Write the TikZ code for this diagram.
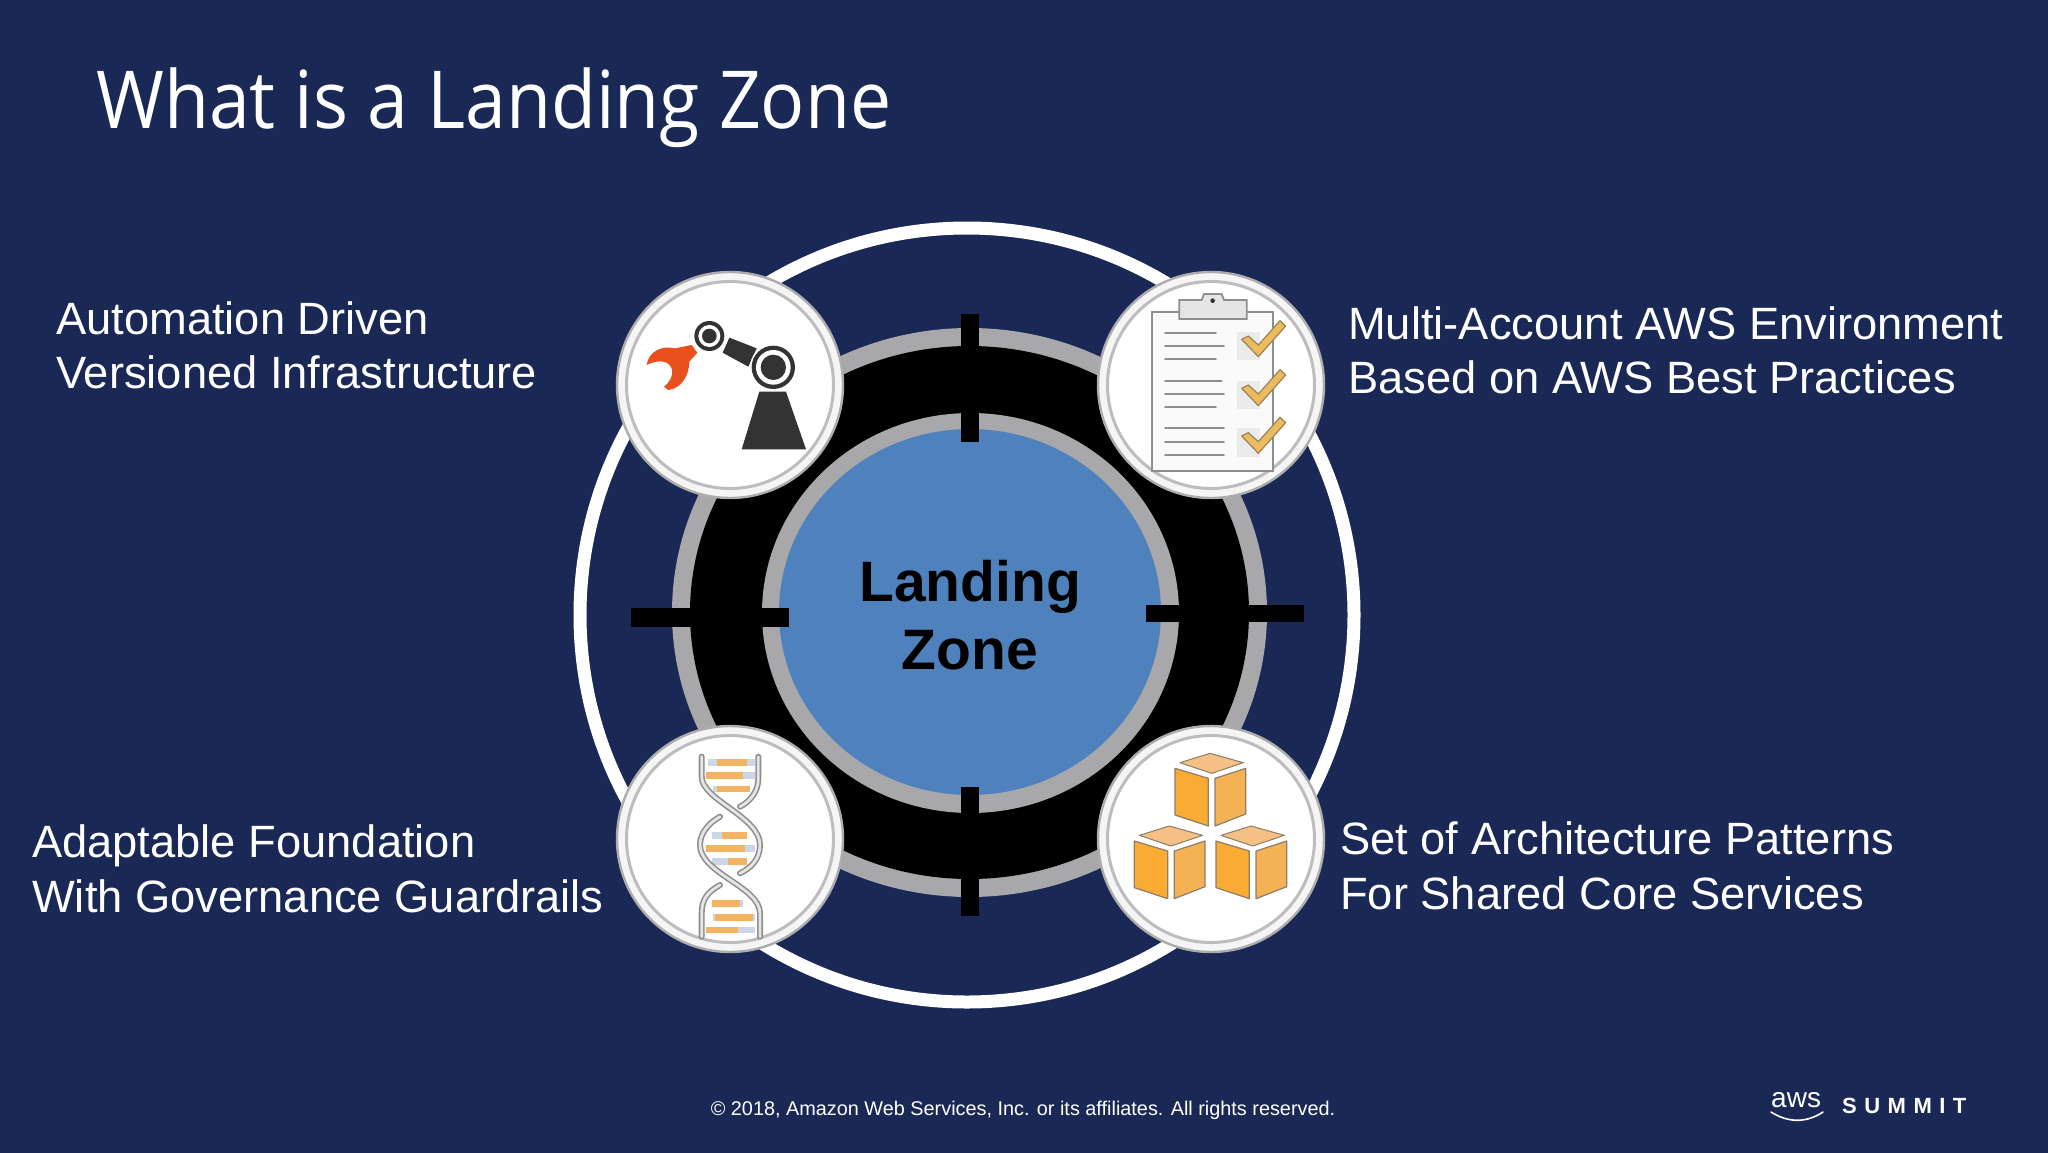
\documentclass[tikz,border=0pt]{standalone}
\usepackage{fontspec}
\setmainfont{Liberation Sans}
\newfontfamily\titlefont[FakeStretch=0.917]{Open Sans}
\newfontfamily\summitfont[LetterSpace=34]{Liberation Sans}
\definecolor{bgnavy}{HTML}{1A2855}
\definecolor{ringgray}{HTML}{A8A8AA}
\definecolor{coreblue}{HTML}{4F81BD}
\definecolor{icondark}{HTML}{333333}
\definecolor{gripper}{HTML}{E8501E}
\definecolor{iconline}{HTML}{8E8E8E}
\definecolor{rung}{HTML}{F2B462}
\definecolor{rungend}{HTML}{CBD6E6}
\definecolor{cubeL}{HTML}{F9AB33}
\definecolor{cubeR}{HTML}{F5B254}
\definecolor{cubeT}{HTML}{F5C083}
\definecolor{cubeE}{HTML}{8C7E68}
\definecolor{checkfill}{HTML}{ECBB5F}
\definecolor{checkedge}{HTML}{9A8456}
\tikzset{
  x=1pt,y=-1pt,
  bodytext/.style={anchor=base west,text=white,inner sep=0pt,font=\fontsize{45.3}{54}\selectfont},
  tick/.style={fill=black,draw=none},
  ballrim/.style={circle,minimum size=226pt,inner sep=0pt,draw=black!32,line width=2.4pt,fill=black!4},
  ballface/.style={circle,minimum size=207pt,inner sep=0pt,draw=black!26,line width=3pt,fill=white},
  lineicon/.style={draw=iconline,line width=1.7pt,line cap=round},
  boxcheck/.style={fill=checkfill,draw=checkedge,line width=1.2pt,line join=round},
  strandout/.style={draw=iconline,line width=6pt,line cap=round},
  strandin/.style={draw=black!10,line width=2.8pt,line cap=round},
}
\begin{document}
\begin{tikzpicture}
\useasboundingbox (0,0) rectangle (2048,1152);
\fill[bgnavy] (-4,-4) rectangle (2052,1156);
% rings
\draw[white,line width=13pt] (967,615) circle[radius=387pt];
\fill[ringgray] (969.5,612.5) ellipse[x radius=297.5pt,y radius=284.5pt];
\fill[black] (969.5,612.5) ellipse[x radius=279.5pt,y radius=266.5pt];
\fill[ringgray] (970.5,613) ellipse[x radius=208.5pt,y radius=200pt];
\fill[coreblue] (970,612) ellipse[x radius=191pt,y radius=183pt];
% ticks
\fill[tick] (631,608) rectangle (789,627);
\fill[tick] (1146,605) rectangle (1304,622);
\fill[tick] (961,314) rectangle (979,442);
\fill[tick] (961,787) rectangle (979,916);
% centre label
\node[anchor=base,text=black,inner sep=0pt,font=\fontsize{57}{57}\bfseries\selectfont] (core1) at (970,601) {Landing};
\node[anchor=base,text=black,inner sep=0pt,font=\fontsize{57}{57}\bfseries\selectfont] (core2) at (970,669) {Zone};
% badges
\foreach \n/\px/\py in {TL/730/385,TR/1211/385,BL/730/839,BR/1211/839}{
  \node[ballrim] (rim\n) at (\px,\py) {};
  \node[ballface] (face\n) at (\px,\py) {};
}
% robot
\begin{scope}[shift={(600,250)},scale=1/3]
  \fill[icondark] (328,258) circle[radius=45pt];
  \fill[white] (328,258) circle[radius=33pt];
  \fill[icondark] (328,258) circle[radius=22pt];
  \fill[icondark] (388,263) -- (470,295) -- (445,350) -- (368,308) -- cycle;
  \fill[white] (520,352) circle[radius=70pt];
  \fill[icondark] (520,352) circle[radius=65pt];
  \fill[white] (520,352) circle[radius=52pt];
  \fill[icondark] (520,352) circle[radius=38pt];
  \fill[icondark] (478,425) -- (558,425) -- (618,598) -- (425,598) -- cycle;
  \fill[gripper] (140,345) .. controls (145,305) and (185,285) .. (225,295)
     -- (275,285) -- (292,308) -- (268,335)
     .. controls (268,375) and (245,415) .. (205,420)
     -- (192,410) .. controls (218,390) and (228,355) .. (200,338)
     .. controls (180,330) and (160,335) .. (140,345) -- cycle;
\end{scope}
% clipboard
\begin{scope}[shift={(1080,250)},scale=1/3]
  \draw[draw=iconline,line width=1.8pt,fill=black!2] (215,185) rectangle (580,662);
  \draw[draw=iconline,line width=1.8pt,fill=black!10] (298,207) -- (298,150) -- (365,150) -- (372,132) -- (425,132) -- (432,150) -- (500,150) -- (500,207) -- cycle;
  \fill[icondark] (398,152) circle[radius=7pt];
  \foreach \ly/\lx in {249/408,288/432,327/408,392/425,433/432,472/408,533/432,576/432,615/432}{
    \draw[lineicon] (255,\ly) -- (\lx,\ly);
  }
  \foreach \dy in {0,147,290}{
    \fill[black!8] (470,245+\dy) rectangle (540,330+\dy);
    \draw[boxcheck] (485,268+\dy) -- (505,258+\dy) -- (535,285+\dy) -- (600,212+\dy) -- (617,228+\dy) -- (535,320+\dy) -- cycle;
  }
\end{scope}
% dna
\begin{scope}[shift={(600,710)},scale=1/3]
  \foreach \ya/\yb/\ea/\xa/\xb/\eb in {147/167/325/350/440/465,185/207/318/318/430/465,227/247/340/350/450/450,367/387/335/365/440/440,405/425/318/318/435/465,445/465/335/385/440/440,570/590/335/335/420/430,612/632/340/345/460/465,650/668/318/318/415/465}{
    \fill[rungend] (\ea,\ya) rectangle (\eb,\yb);
    \fill[rung] (\xa,\ya) rectangle (\xb,\yb);
  }
  \foreach \sty in {strandout,strandin}{
    \draw[\sty] (305,140) -- (305,200) .. controls (305,270) and (480,320) .. (480,405) .. controls (480,450) and (450,475) .. (420,490);
    \draw[\sty] (475,140) -- (475,205) .. controls (475,245) and (450,275) .. (420,290);
    \draw[\sty] (360,320) .. controls (325,340) and (300,370) .. (300,405) .. controls (300,490) and (480,530) .. (480,610) -- (480,680);
    \draw[\sty] (360,525) .. controls (325,545) and (305,565) .. (305,610) -- (305,680);
  }
\end{scope}
% cubes
\begin{scope}[shift={(1080,710)},scale=1/3]
  \foreach \dx/\dy in {0/0,-122/218,123/218}{
    \begin{scope}[shift={(\dx,\dy)}]
      \draw[fill=cubeT,draw=cubeE,line width=1pt,line join=round] (300,158) -- (390,130) -- (490,158) -- (395,190) -- cycle;
      \draw[fill=cubeL,draw=cubeE,line width=1.2pt,line join=round] (285,175) -- (385,205) -- (385,348) -- (285,315) -- cycle;
      \draw[fill=cubeR,draw=cubeE,line width=1.2pt,line join=round] (405,205) -- (497,175) -- (497,312) -- (405,348) -- cycle;
    \end{scope}
  }
\end{scope}
% title and labels
\node[anchor=base west,text=white,inner sep=0pt,font=\titlefont\fontsize{80}{80}\selectfont] (title) at (96,128) {What is a Landing Zone};
\node[bodytext] (tl1) at (56,334) {Automation Driven};
\node[bodytext] (tl2) at (56,388) {Versioned Infrastructure};
\node[bodytext] (tr1) at (1348,339) {Multi-Account AWS Environment};
\node[bodytext] (tr2) at (1348,393) {Based on AWS Best Practices};
\node[bodytext] (bl1) at (32,857) {Adaptable Foundation};
\node[bodytext] (bl2) at (32,912) {With Governance Guardrails};
\node[bodytext] (br1) at (1340,854) {Set of Architecture Patterns};
\node[bodytext] (br2) at (1340,909) {For Shared Core Services};
\node[anchor=base,text=white,inner sep=0pt,font=\fontsize{19.85}{20}\selectfont] (legal) at (1023,1115) {© 2018, Amazon Web Services, Inc. or its affiliates. All rights reserved.};
% logo
\node[anchor=base west,text=white,inner sep=0pt,font=\fontsize{28}{28}\selectfont] (awsword) at (1771,1107) {aws};
\coordinate (smileA) at (1771,1112);
\coordinate (smileB) at (1823,1112);
\draw[white,line width=1.6pt,line cap=round] (smileA) .. controls (1790,1124) and (1808,1122) .. (smileB);
\node[anchor=base west,text=white,inner sep=0pt,font=\summitfont\bfseries\fontsize{22}{22}\selectfont] (summit) at (1842,1113) {SUMMIT};
\end{tikzpicture}
\end{document}
